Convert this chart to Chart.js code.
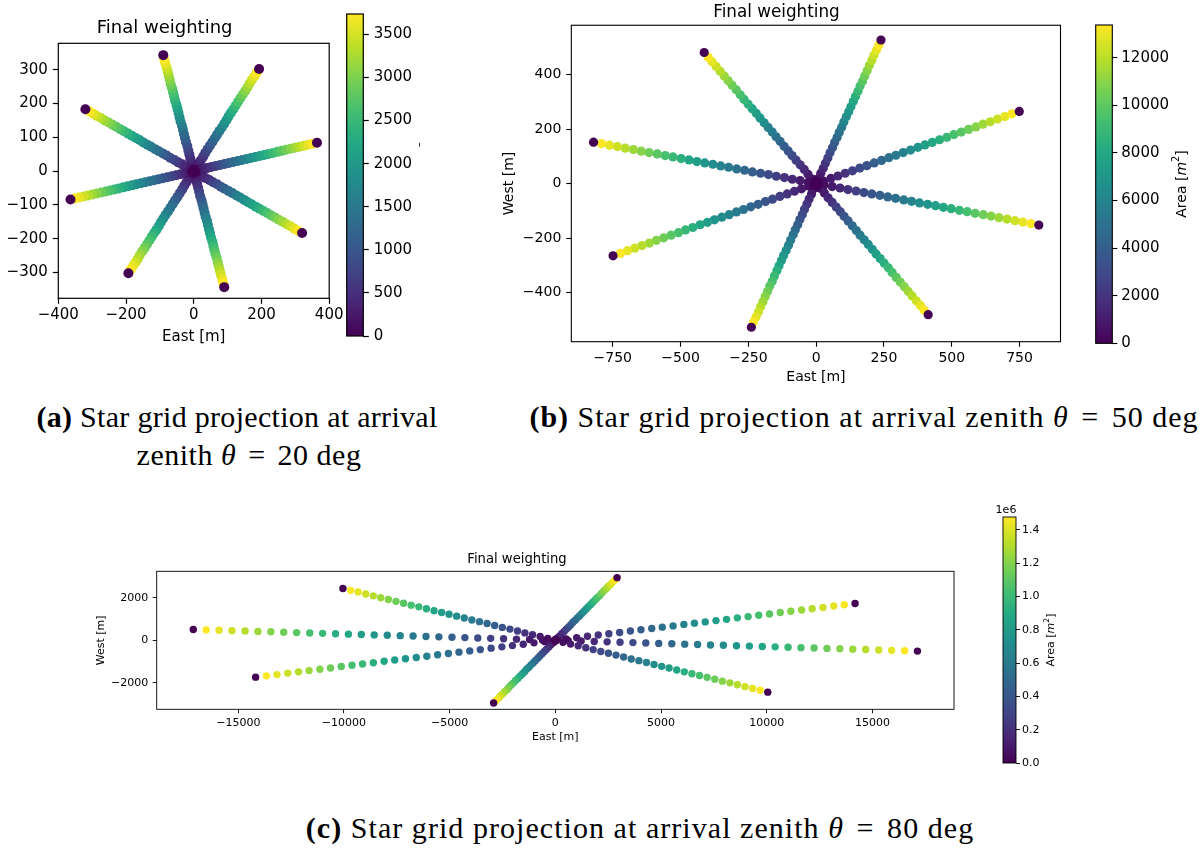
<!DOCTYPE html>
<html>
<head>
<meta charset="utf-8">
<script src="https://cdn.jsdelivr.net/npm/chart.js@4.4.1/dist/chart.umd.min.js"></script>
<style>
  body { margin: 0; background: #fff; width: 1201px; height: 855px; position: relative; overflow: hidden; }
  canvas { position: absolute; }
  .cap { position: absolute; font-family: "Liberation Serif", serif; font-size: 30px; line-height: 30px;
         white-space: nowrap; color: #000; transform: translateX(-50%); }
  .cap b { font-weight: bold; }
  .cap i { font-style: italic; }
  .cap .eq { margin: 0 4px; }
</style>
</head>
<body>
<canvas id="chartA" width="346" height="350" style="left:0px;top:0px"></canvas>
<canvas id="cbarA" width="90" height="350" style="left:330px;top:0px"></canvas>
<canvas id="chartB" width="577" height="390" style="left:490px;top:0px"></canvas>
<canvas id="cbarB" width="116" height="360" style="left:1085px;top:0px"></canvas>
<canvas id="chartC" width="880" height="208" style="left:80px;top:540px"></canvas>
<canvas id="cbarC" width="90" height="280" style="left:990px;top:500px"></canvas>

<div class="cap" style="left:237px;top:402px;letter-spacing:0.3px"><b>(a)</b> Star grid projection at arrival</div>
<div class="cap" style="left:249px;top:440px;letter-spacing:0.5px">zenith <i>θ</i> <span class="eq">=</span> 20 deg</div>
<div class="cap" style="left:864px;top:402px;letter-spacing:1px"><b>(b)</b> Star grid projection at arrival zenith <i>θ</i> <span class="eq">=</span> 50 deg</div>
<div class="cap" style="left:640px;top:813px;letter-spacing:1.05px"><b>(c)</b> Star grid projection at arrival zenith <i>θ</i> <span class="eq">=</span> 80 deg</div>

<script>
// ---- (a) zenith 20 deg : 8 arms, rings 1..28 (East / West in m) ----
const eastA = [
  [13, 26, 39, 52, 65, 78, 91, 104, 117, 130, 143, 156, 169, 182, 195, 208, 221, 234, 247, 260, 273, 286, 299, 312, 325, 338, 351, 364],
  [7, 14, 21, 28, 34, 41, 48, 55, 62, 69, 76, 83, 90, 97, 103, 110, 117, 124, 131, 138, 145, 152, 159, 165, 172, 179, 186, 193],
  [-3, -6, -10, -13, -16, -19, -23, -26, -29, -32, -35, -39, -42, -45, -48, -51, -55, -58, -61, -64, -68, -71, -74, -77, -80, -84, -87, -90],
  [-11, -23, -34, -46, -57, -69, -80, -91, -103, -114, -126, -137, -149, -160, -171, -183, -194, -206, -217, -229, -240, -251, -263, -274, -286, -297, -309, -320],
  [-13, -26, -39, -52, -65, -78, -91, -104, -117, -130, -143, -156, -169, -182, -195, -208, -221, -234, -247, -260, -273, -286, -299, -312, -325, -338, -351, -364],
  [-7, -14, -21, -28, -34, -41, -48, -55, -62, -69, -76, -83, -90, -97, -103, -110, -117, -124, -131, -138, -145, -152, -159, -165, -172, -179, -186, -193],
  [3, 6, 10, 13, 16, 19, 23, 26, 29, 32, 35, 39, 42, 45, 48, 51, 55, 58, 61, 64, 68, 71, 74, 77, 80, 84, 87, 90],
  [11, 23, 34, 46, 57, 69, 80, 91, 103, 114, 126, 137, 149, 160, 171, 183, 194, 206, 217, 229, 240, 251, 263, 274, 286, 297, 309, 320]
];
const westA = [
  [3, 6, 9, 12, 15, 18, 21, 24, 27, 30, 33, 36, 39, 42, 45, 48, 51, 54, 57, 60, 63, 66, 69, 72, 75, 78, 81, 84],
  [11, 22, 32, 43, 54, 65, 76, 86, 97, 108, 119, 129, 140, 151, 162, 173, 183, 194, 205, 216, 227, 237, 248, 259, 270, 280, 291, 302],
  [12, 25, 37, 49, 61, 74, 86, 98, 110, 123, 135, 147, 159, 172, 184, 196, 208, 221, 233, 245, 257, 270, 282, 294, 306, 319, 331, 343],
  [7, 13, 20, 26, 33, 39, 46, 52, 59, 65, 72, 78, 85, 92, 98, 105, 111, 118, 124, 131, 137, 144, 150, 157, 163, 170, 177, 183],
  [-3, -6, -9, -12, -15, -18, -21, -24, -27, -30, -33, -36, -39, -42, -45, -48, -51, -54, -57, -60, -63, -66, -69, -72, -75, -78, -81, -84],
  [-11, -22, -32, -43, -54, -65, -76, -86, -97, -108, -119, -129, -140, -151, -162, -173, -183, -194, -205, -216, -227, -237, -248, -259, -270, -280, -291, -302],
  [-12, -25, -37, -49, -61, -74, -86, -98, -110, -123, -135, -147, -159, -172, -184, -196, -208, -221, -233, -245, -257, -270, -282, -294, -306, -319, -331, -343],
  [-7, -13, -20, -26, -33, -39, -46, -52, -59, -65, -72, -78, -85, -92, -98, -105, -111, -118, -124, -131, -137, -144, -150, -157, -163, -170, -177, -183]
];
const areaA = [140, 280, 420, 550, 690, 830, 970, 1110, 1250, 1380, 1520, 1660, 1800, 1940, 2080, 2210, 2350, 2490, 2630, 2770, 2910, 3050, 3180, 3320, 3460, 3600, 3737, 0];

// ---- (b) zenith 50 deg ----
const eastB = [
  [9, 17, 26, 34, 43, 51, 60, 68, 77, 85, 94, 102, 111, 120, 128, 137, 145, 154, 162, 171, 179, 188, 196, 205, 213, 222, 231, 239],
  [-15, -30, -44, -59, -74, -89, -103, -118, -133, -148, -162, -177, -192, -207, -221, -236, -251, -266, -280, -295, -310, -325, -339, -354, -369, -384, -398, -413],
  [-29, -59, -88, -117, -147, -176, -205, -235, -264, -293, -323, -352, -381, -411, -440, -469, -498, -528, -557, -586, -616, -645, -674, -704, -733, -762, -792, -821],
  [-27, -54, -80, -107, -134, -161, -187, -214, -241, -268, -294, -321, -348, -375, -401, -428, -455, -482, -508, -535, -562, -589, -615, -642, -669, -696, -722, -749],
  [-9, -17, -26, -34, -43, -51, -60, -68, -77, -85, -94, -102, -111, -120, -128, -137, -145, -154, -162, -171, -179, -188, -196, -205, -213, -222, -231, -239],
  [15, 30, 44, 59, 74, 89, 103, 118, 133, 148, 162, 177, 192, 207, 221, 236, 251, 266, 280, 295, 310, 325, 339, 354, 369, 384, 398, 413],
  [29, 59, 88, 117, 147, 176, 205, 235, 264, 293, 323, 352, 381, 411, 440, 469, 498, 528, 557, 586, 616, 645, 674, 704, 733, 762, 792, 821],
  [27, 54, 80, 107, 134, 161, 187, 214, 241, 268, 294, 321, 348, 375, 401, 428, 455, 482, 508, 535, 562, 589, 615, 642, 669, 696, 722, 749]
];
const westB = [
  [19, 38, 56, 75, 94, 113, 132, 151, 169, 188, 207, 226, 245, 264, 282, 301, 320, 339, 358, 376, 395, 414, 433, 452, 471, 489, 508, 527],
  [17, 34, 52, 69, 86, 103, 120, 137, 155, 172, 189, 206, 223, 241, 258, 275, 292, 309, 326, 344, 361, 378, 395, 412, 430, 447, 464, 481],
  [5, 11, 16, 22, 27, 33, 38, 43, 49, 54, 60, 65, 71, 76, 81, 87, 92, 98, 103, 109, 114, 119, 125, 130, 136, 141, 147, 152],
  [-9, -19, -28, -38, -47, -57, -66, -76, -85, -95, -104, -114, -123, -133, -142, -151, -161, -170, -180, -189, -199, -208, -218, -227, -237, -246, -256, -265],
  [-19, -38, -56, -75, -94, -113, -132, -151, -169, -188, -207, -226, -245, -264, -282, -301, -320, -339, -358, -376, -395, -414, -433, -452, -471, -489, -508, -527],
  [-17, -34, -52, -69, -86, -103, -120, -137, -155, -172, -189, -206, -223, -241, -258, -275, -292, -309, -326, -344, -361, -378, -395, -412, -430, -447, -464, -481],
  [-5, -11, -16, -22, -27, -33, -38, -43, -49, -54, -60, -65, -71, -76, -81, -87, -92, -98, -103, -109, -114, -119, -125, -130, -136, -141, -147, -152],
  [9, 19, 28, 38, 47, 57, 66, 76, 85, 95, 104, 114, 123, 133, 142, 151, 161, 170, 180, 189, 199, 208, 218, 227, 237, 246, 256, 265]
];
const areaB = [500, 990, 1490, 1980, 2480, 2970, 3470, 3960, 4460, 4950, 5450, 5940, 6440, 6930, 7430, 7930, 8420, 8920, 9410, 9910, 10400, 10900, 11390, 11890, 12380, 12880, 13374, 0];

// ---- (c) zenith 80 deg ----
const eastC = [
  [100, 210, 310, 420, 520, 630, 730, 830, 940, 1040, 1150, 1250, 1360, 1460, 1560, 1670, 1770, 1880, 1980, 2090, 2190, 2290, 2400, 2500, 2610, 2710, 2820, 2920],
  [-360, -720, -1080, -1440, -1790, -2150, -2510, -2870, -3230, -3590, -3950, -4310, -4670, -5030, -5380, -5740, -6100, -6460, -6820, -7180, -7540, -7900, -8260, -8610, -8970, -9330, -9690, -10050],
  [-610, -1220, -1840, -2450, -3060, -3670, -4280, -4890, -5510, -6120, -6730, -7340, -7950, -8570, -9180, -9790, -10400, -11010, -11620, -12240, -12850, -13460, -14070, -14680, -15300, -15910, -16520, -17130],
  [-510, -1010, -1520, -2030, -2530, -3040, -3550, -4050, -4560, -5060, -5570, -6080, -6580, -7090, -7600, -8100, -8610, -9120, -9620, -10130, -10640, -11140, -11650, -12150, -12660, -13170, -13670, -14180],
  [-100, -210, -310, -420, -520, -630, -730, -830, -940, -1040, -1150, -1250, -1360, -1460, -1560, -1670, -1770, -1880, -1980, -2090, -2190, -2290, -2400, -2500, -2610, -2710, -2820, -2920],
  [360, 720, 1080, 1440, 1790, 2150, 2510, 2870, 3230, 3590, 3950, 4310, 4670, 5030, 5380, 5740, 6100, 6460, 6820, 7180, 7540, 7900, 8260, 8610, 8970, 9330, 9690, 10050],
  [610, 1220, 1840, 2450, 3060, 3670, 4280, 4890, 5510, 6120, 6730, 7340, 7950, 8570, 9180, 9790, 10400, 11010, 11620, 12240, 12850, 13460, 14070, 14680, 15300, 15910, 16520, 17130],
  [510, 1010, 1520, 2030, 2530, 3040, 3550, 4050, 4560, 5060, 5570, 6080, 6580, 7090, 7600, 8100, 8610, 9120, 9620, 10130, 10640, 11140, 11650, 12150, 12660, 13170, 13670, 14180]
];
const westC = [
  [110, 210, 320, 420, 530, 630, 740, 850, 950, 1060, 1160, 1270, 1370, 1480, 1590, 1690, 1800, 1900, 2010, 2110, 2220, 2330, 2430, 2540, 2640, 2750, 2850, 2960],
  [90, 180, 260, 350, 440, 530, 610, 700, 790, 880, 960, 1050, 1140, 1230, 1310, 1400, 1490, 1580, 1660, 1750, 1840, 1930, 2010, 2100, 2190, 2280, 2360, 2450],
  [18, 36, 55, 73, 91, 109, 128, 146, 164, 182, 200, 219, 237, 255, 273, 291, 310, 328, 346, 364, 383, 401, 419, 437, 455, 474, 492, 510],
  [-60, -120, -190, -250, -310, -370, -440, -500, -560, -620, -680, -750, -810, -870, -930, -990, -1060, -1120, -1180, -1240, -1310, -1370, -1430, -1490, -1550, -1620, -1680, -1740],
  [-110, -210, -320, -420, -530, -630, -740, -850, -950, -1060, -1160, -1270, -1370, -1480, -1590, -1690, -1800, -1900, -2010, -2110, -2220, -2330, -2430, -2540, -2640, -2750, -2850, -2960],
  [-90, -180, -260, -350, -440, -530, -610, -700, -790, -880, -960, -1050, -1140, -1230, -1310, -1400, -1490, -1580, -1660, -1750, -1840, -1930, -2010, -2100, -2190, -2280, -2360, -2450],
  [-18, -36, -55, -73, -91, -109, -128, -146, -164, -182, -200, -219, -237, -255, -273, -291, -310, -328, -346, -364, -383, -401, -419, -437, -455, -474, -492, -510],
  [60, 120, 190, 250, 310, 370, 440, 500, 560, 620, 680, 750, 810, 870, 930, 990, 1060, 1120, 1180, 1240, 1310, 1370, 1430, 1490, 1550, 1620, 1680, 1740]
];
const areaC = [55000, 109000, 164000, 219000, 274000, 328000, 383000, 438000, 492000, 547000, 602000, 656000, 711000, 766000, 821000, 875000, 930000, 985000, 1039000, 1094000, 1149000, 1203000, 1258000, 1313000, 1368000, 1422000, 1477000, 0];

// centre station of each panel (a, b, c)
const centerEast = [0, 0, 0];
const centerWest = [0, 0, 0];
const centerArea = [0, 0, 0];

// tick labels
const xTicksA = [-400, -200, 0, 200, 400];
const yTicksA = [-300, -200, -100, 0, 100, 200, 300];
const cbTicksA = [0, 500, 1000, 1500, 2000, 2500, 3000, 3500];
const xTicksB = [-750, -500, -250, 0, 250, 500, 750];
const yTicksB = [-400, -200, 0, 200, 400];
const cbTicksB = [0, 2000, 4000, 6000, 8000, 10000, 12000];
const xTicksC = [-15000, -10000, -5000, 0, 5000, 10000, 15000];
const yTicksC = [-2000, 0, 2000];
const cbTicksC = [0, 200000, 400000, 600000, 800000, 1000000, 1200000, 1400000];

const FONT = "DejaVu Sans";
const viridisStops = ["#440154", "#482475", "#414487", "#355f8d", "#2a788e", "#21918c",
  "#22a884", "#44bf70", "#7ad151", "#bddf26", "#fde725"];

function hexRgb(h) {
  return [1, 3, 5].map((k) => parseInt(h.substr(k, 2), 16));
}

function viridis(t) {
  t = Math.max(0, Math.min(1, t));
  const p = t * (viridisStops.length - 1);
  const i = Math.min(Math.floor(p), viridisStops.length - 2);
  const f = p - i;
  const c0 = hexRgb(viridisStops[i]);
  const c1 = hexRgb(viridisStops[i + 1]);
  const c = c0.map((v, k) => Math.round(v + (c1[k] - v) * f));
  return "rgb(" + c.join(",") + ")";
}

function fmtTick(v) {
  return String(v).replace("-", "\u2212");
}

// "Area [m^2]" colorbar label, rotated to read upwards
function drawAreaLabel(ctx, x, y, size) {
  const parts = [
    { t: "Area [", f: size + "px '" + FONT + "'", dy: 0 },
    { t: "m", f: "italic " + size + "px '" + FONT + "'", dy: 0 },
    { t: "2", f: (size * 0.7).toFixed(1) + "px '" + FONT + "'", dy: -size * 0.38 },
    { t: "]", f: size + "px '" + FONT + "'", dy: 0 },
  ];
  ctx.save();
  let w = 0;
  parts.forEach((p) => {
    ctx.font = p.f;
    p.w = ctx.measureText(p.t).width;
    w += p.w;
  });
  ctx.translate(x, y);
  ctx.rotate(-Math.PI / 2);
  ctx.fillStyle = "#000";
  ctx.textBaseline = "middle";
  let cx = -w / 2;
  parts.forEach((p) => {
    ctx.font = p.f;
    ctx.fillText(p.t, cx, p.dy);
    cx += p.w;
  });
  ctx.restore();
}

const framePlugin = {
  id: "frame",
  afterDatasetsDraw(chart, args, o) {
    const a = chart.chartArea;
    const ctx = chart.ctx;
    ctx.save();
    ctx.lineWidth = o.lw;
    ctx.strokeStyle = "#000";
    ctx.strokeRect(a.left, a.top, a.right - a.left, a.bottom - a.top);
    ctx.restore();
  },
};

const cbarPlugin = {
  id: "cbar",
  beforeDatasetsDraw(chart, args, o) {
    const a = chart.chartArea;
    const ctx = chart.ctx;
    const g = ctx.createLinearGradient(0, a.bottom, 0, a.top);
    viridisStops.forEach((c, i) => g.addColorStop(i / (viridisStops.length - 1), c));
    ctx.save();
    ctx.fillStyle = g;
    ctx.fillRect(a.left, a.top, a.right - a.left, a.bottom - a.top);
    ctx.lineWidth = o.lw;
    ctx.strokeStyle = "#000";
    ctx.strokeRect(a.left, a.top, a.right - a.left, a.bottom - a.top);
    ctx.restore();
  },
  afterDraw(chart, args, o) {
    const ctx = chart.ctx;
    drawAreaLabel(ctx, o.labelX, o.labelY, o.labelSize);
    if (o.offsetText) {
      ctx.save();
      ctx.font = o.labelSize + "px '" + FONT + "'";
      ctx.fillStyle = "#000";
      ctx.textAlign = "center";
      ctx.textBaseline = "alphabetic";
      ctx.fillText(o.offsetText, o.offX, o.offY);
      ctx.restore();
    }
  },
};

function axisCfg(min, max, ticks, p, size, pad, title, titlePad, fmt) {
  return {
    type: "linear",
    min: min,
    max: max,
    afterBuildTicks: (s) => {
      s.ticks = ticks.map((v) => ({ value: v }));
    },
    afterFit: (s) => {
      if (s.isHorizontal()) s.height = size;
      else s.width = size;
    },
    grid: { display: true, drawOnChartArea: false, drawTicks: true, tickLength: p.tl, tickColor: "#000", tickWidth: p.lw },
    border: { display: false },
    ticks: {
      color: "#000",
      font: { family: FONT, size: p.tickSize },
      padding: pad,
      autoSkip: false,
      maxRotation: 0,
      callback: fmt || ((v) => fmtTick(v)),
    },
    title: title
      ? { display: true, text: title, color: "#000", font: { family: FONT, size: p.labelSize }, padding: titlePad }
      : { display: false },
  };
}

function buildPanel(id, east, west, area, c, xTicks, yTicks, p) {
  const vmax = Math.max(...area);
  const colors = area.map((a) => viridis(a / vmax));
  const datasets = [
    {
      data: [{ x: centerEast[c], y: centerWest[c] }],
      pointBackgroundColor: [viridis(centerArea[c] / vmax)],
      pointRadius: p.rc,
      pointHoverRadius: p.rc,
      pointBorderWidth: 0,
      order: 0,
    },
  ];
  east.forEach((xs, k) => {
    datasets.push({
      data: xs.map((x, i) => ({ x: x, y: west[k][i] })),
      pointBackgroundColor: colors,
      pointRadius: p.r,
      pointHoverRadius: p.r,
      pointBorderWidth: 0,
      order: k + 1,
    });
  });

  new Chart(document.getElementById(id), {
    type: "scatter",
    data: { datasets: datasets },
    options: {
      responsive: false,
      animation: false,
      events: [],
      layout: { padding: p.pad },
      plugins: {
        legend: { display: false },
        tooltip: { enabled: false },
        title: {
          display: true,
          text: "Final weighting",
          color: "#000",
          font: { family: FONT, size: p.titleSize, weight: "normal" },
          padding: p.titlePad,
        },
        frame: { lw: p.lw },
      },
      scales: {
        x: axisCfg(p.xMin, p.xMax, xTicks, p, p.xH, p.xPad, "East [m]", { top: 4, bottom: 4 }),
        y: axisCfg(p.yMin, p.yMax, yTicks, p, p.yW, p.yPad, p.yTitle, p.yTitlePad),
      },
    },
    plugins: [framePlugin],
  });
}

function buildColorbar(id, area, ticks, p, fmt) {
  const vmax = Math.max(...area);
  new Chart(document.getElementById(id), {
    type: "scatter",
    data: { datasets: [] },
    options: {
      responsive: false,
      animation: false,
      events: [],
      layout: { padding: p.pad },
      plugins: {
        legend: { display: false },
        tooltip: { enabled: false },
        cbar: { lw: p.lw, labelX: p.labelX, labelY: p.labelY, labelSize: p.labelSize,
                offsetText: p.offsetText || "", offX: p.offX || 0, offY: p.offY || 0 },
      },
      scales: {
        x: { display: false, min: 0, max: 1 },
        y: Object.assign(axisCfg(0, vmax, ticks, p, p.axisW, p.tickPad, null, null, fmt), { position: "right" }),
      },
    },
    plugins: [cbarPlugin],
  });
}

buildPanel("chartA", eastA, westA, areaA, 0, xTicksA, yTicksA, {
  pad: { left: 0, top: 0, right: 16.7, bottom: 0 },
  titleSize: 18, titlePad: { top: 17.2, bottom: 4.5 },
  tickSize: 15, labelSize: 15, tl: 5.5, xPad: 2.5, yPad: 5, lw: 1.2,
  xMin: -400, xMax: 400, yMin: -376, yMax: 378, xH: 51.7, yW: 58.3,
  yTitle: null, r: 5, rc: 6.3,
});
buildColorbar("cbarA", areaA, cbTicksA, {
  pad: { left: 16.7, top: 2.7, right: 0, bottom: 10.7 }, axisW: 56.7,
  tickSize: 15, tl: 5.5, tickPad: 5, lw: 1.2, labelX: 99.5, labelY: 171, labelSize: 15,
});

buildPanel("chartB", eastB, westB, areaB, 1, xTicksB, yTicksB, {
  pad: { left: 0, top: 0, right: 4, bottom: 0 },
  titleSize: 16.8, titlePad: { top: 3, bottom: 2.1 },
  tickSize: 14, labelSize: 14, tl: 5, xPad: 3, yPad: 5, lw: 1.1,
  xMin: -903, xMax: 901, yMin: -580, yMax: 581, xH: 48.3, yW: 81.3,
  yTitle: "West [m]", yTitlePad: { top: 10.6, bottom: 4 }, r: 4.6, rc: 6.5,
});
buildColorbar("cbarB", areaB, cbTicksB, {
  pad: { left: 10.7, top: 25, right: 0, bottom: 16.7 }, axisW: 88.7,
  tickSize: 15, tl: 5, tickPad: 4, lw: 1.1, labelX: 97, labelY: 184, labelSize: 14,
});

buildPanel("chartC", eastC, westC, areaC, 2, xTicksC, yTicksC, {
  pad: { left: 0, top: 0, right: 6, bottom: 0 },
  titleSize: 13.2, titlePad: { top: 11.4, bottom: 4.06 },
  tickSize: 11, labelSize: 11, tl: 4, xPad: 3, yPad: 4.4, lw: 0.9,
  xMin: -18860, xMax: 18860, yMin: -3259, yMax: 3259, xH: 38.7, yW: 76.7,
  yTitle: "West [m]", yTitlePad: { top: 14.4, bottom: 4 }, r: 3.7, rc: 4.6,
});
buildColorbar("cbarC", areaC, cbTicksC, {
  pad: { left: 13, top: 17, right: 0, bottom: 17 }, axisW: 64,
  tickSize: 11, tl: 4, tickPad: 2, lw: 0.9, labelX: 61, labelY: 140, labelSize: 11,
  offsetText: "1e6", offX: 16, offY: 13,
}, (v) => (v / 1e6).toFixed(1));
</script>
</body>
</html>
